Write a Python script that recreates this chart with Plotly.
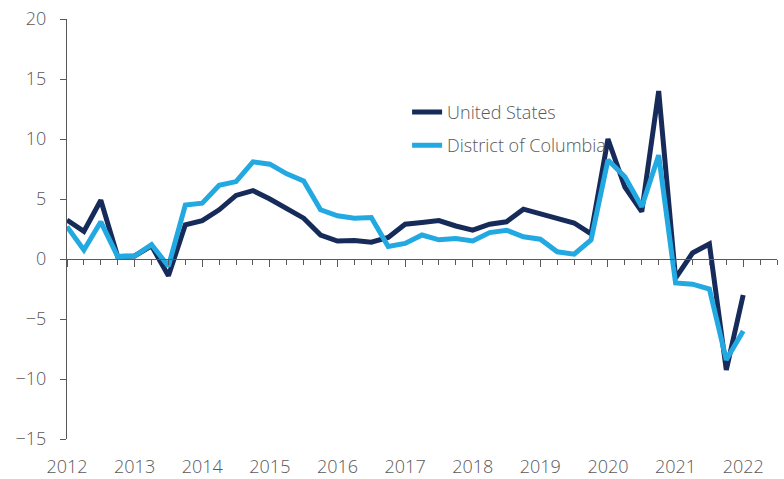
import plotly.graph_objects as go

years = ["2012", "2013", "2014", "2015", "2016", "2017", "2018", "2019", "2020", "2021", "2022"]
quarters = [f"{y} Q{q}" for y in years for q in (1, 2, 3, 4)][:41]

us = [3.25, 2.3, 4.9, 0.2, 0.25, 1.1, -1.4, 2.85, 3.2, 4.1, 5.3, 5.7,
      5.0, 4.2, 3.4, 2.0, 1.5, 1.55, 1.4, 1.8, 2.9, 3.05, 3.2, 2.75,
      2.4, 2.9, 3.1, 4.15, 3.8, 3.35, 3.0, 2.1, 10.0, 6.0, 3.95, 14.0,
      -1.6, 0.5, 1.25, -9.25, -3.0]
dc = [2.7, 0.75, 3.1, 0.2, 0.25, 1.2, -0.6, 4.5, 4.65, 6.15, 6.45, 8.1,
      7.9, 7.1, 6.5, 4.1, 3.6, 3.4, 3.45, 1.05, 1.3, 2.0, 1.6, 1.7,
      1.5, 2.2, 2.4, 1.85, 1.65, 0.6, 0.4, 1.6, 8.25, 6.85, 4.35, 8.65,
      -2.0, -2.1, -2.5, -8.4, -6.0]

x = list(range(len(quarters)))
year_pos = [4 * i for i in range(len(years))]

AX = "#595959"
FONT = dict(family="Open Sans, Noto Sans, sans-serif", size=18, color=AX, weight=300)

fig = go.Figure()
fig.add_trace(go.Scatter(x=x, y=us, mode="lines", name="United States",
                         line=dict(color="#172B5A", width=5), legendgroup="a"))
fig.add_trace(go.Scatter(x=x, y=dc, mode="lines", name="District of Columbia",
                         line=dict(color="#23A9E1", width=5), legendgroup="b"))
# invisible trace to hold the zero-line axis
fig.add_trace(go.Scatter(x=[0, 42], y=[0, 0], xaxis="x2", mode="lines",
                         line=dict(width=0), showlegend=False, hoverinfo="skip"))

fig.update_layout(
    width=784, height=479,
    margin=dict(l=67, r=7, t=19, b=40, autoexpand=False),
    paper_bgcolor="white", plot_bgcolor="white",
    font=FONT,
    showlegend=True,
    legend=dict(x=0.479, y=0.822, xanchor="left", yanchor="top",
                bgcolor="rgba(0,0,0,0)", font=FONT, tracegroupgap=7),
    xaxis=dict(range=[0, 42], showline=False, showgrid=False, zeroline=False,
               automargin=False,
               tickmode="array", tickvals=year_pos, ticktext=years,
               ticks="outside", ticklen=11, tickcolor="rgba(0,0,0,0)",
               tickfont=FONT),
    xaxis2=dict(range=[0, 42], overlaying="x", anchor="free", position=15 / 35,
                side="bottom", showline=True, linecolor=AX, linewidth=1,
                automargin=False,
                showgrid=False, zeroline=False, showticklabels=False,
                tickmode="array", tickvals=year_pos, ticks="outside",
                ticklen=7, tickcolor=AX, tickwidth=1,
                minor=dict(dtick=1, tick0=0, ticks="outside", ticklen=5,
                           tickcolor=AX, tickwidth=1, showgrid=False)),
    yaxis=dict(range=[-15, 20], showline=True, linecolor=AX, linewidth=1,
               automargin=False,
               showgrid=False, zeroline=False, tickvals=[-15, -10, -5, 0, 5, 10, 15, 20],
               ticks="outside", ticklen=6, tickcolor=AX, tickwidth=1,
               ticklabelstandoff=10, tickfont=FONT),
)

fig.write_html("out.html", config={"displayModeBar": False},
               post_script="document.body.style.margin='0';document.body.style.overflow='hidden';")
